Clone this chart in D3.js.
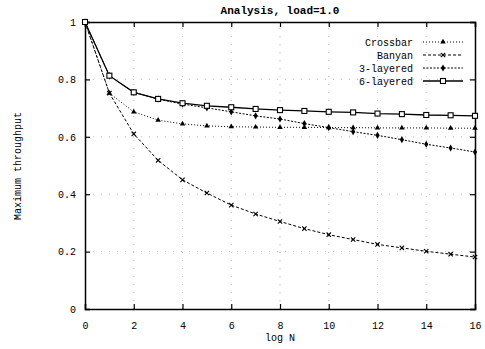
<!DOCTYPE html>
<html>
<head>
<meta charset="utf-8">
<script src="https://cdn.jsdelivr.net/npm/d3@7"></script>
<style>
  body { margin: 0; background: #fff; }
  text { font-family: "Liberation Mono", "DejaVu Sans Mono", monospace; fill: #000; }
</style>
</head>
<body>
<div class="chart"></div>
<script>
const logN = [0, 1, 2, 3, 4, 5, 6, 7, 8, 9, 10, 11, 12, 13, 14, 15, 16];
const crossbar = [1, 0.752, 0.687, 0.658, 0.645, 0.638, 0.635, 0.634, 0.633, 0.633, 0.632, 0.632, 0.631, 0.631, 0.631, 0.630, 0.630];
const banyan = [1, 0.752, 0.61, 0.518, 0.45, 0.404, 0.362, 0.331, 0.305, 0.28, 0.259, 0.242, 0.225, 0.213, 0.201, 0.191, 0.181];
const layered3 = [1, 0.813, 0.755, 0.731, 0.714, 0.701, 0.687, 0.673, 0.662, 0.646, 0.632, 0.618, 0.605, 0.59, 0.574, 0.561, 0.547];
const layered6 = [1, 0.813, 0.755, 0.732, 0.717, 0.708, 0.703, 0.697, 0.693, 0.69, 0.687, 0.685, 0.681, 0.679, 0.676, 0.675, 0.673];
const xTicks = [0, 2, 4, 6, 8, 10, 12, 14, 16];
const yTicks = [0, 0.2, 0.4, 0.6, 0.8, 1];
const seriesNames = ['Crossbar', 'Banyan', '3-layered', '6-layered'];

const w = 485, h = 349;
const margin = { top: 22, right: 10, bottom: 40, left: 85 };

const x = d3.scaleLinear().domain([0, 16]).range([margin.left, w - margin.right]);
const y = d3.scaleLinear().domain([0, 1]).range([h - margin.bottom, margin.top]);

const svg = d3.select('.chart').append('svg')
  .attr('width', w)
  .attr('height', h);

// grid (sparse dots)
svg.append('g').selectAll('line')
  .data(xTicks.slice(1, -1))
  .enter().append('line')
  .attr('x1', d => x(d)).attr('x2', d => x(d))
  .attr('y1', y(0)).attr('y2', y(1))
  .attr('stroke', '#aaa').attr('stroke-width', 0.8)
  .attr('stroke-dasharray', '1,7');

svg.append('g').selectAll('line')
  .data(yTicks.slice(1, -1))
  .enter().append('line')
  .attr('x1', x(0)).attr('x2', x(16))
  .attr('y1', d => y(d)).attr('y2', d => y(d))
  .attr('stroke', '#aaa').attr('stroke-width', 0.8)
  .attr('stroke-dasharray', '1,7');

// axes, ticks pointing inward on all four sides
const fmtY = d => d === 0 || d === 1 ? d3.format('d')(d) : d3.format('.1f')(d);

svg.append('g')
  .attr('transform', `translate(0,${y(0)})`)
  .call(d3.axisBottom(x).tickValues(xTicks).tickSize(-5).tickPadding(13).tickFormat(d3.format('d')))
  .call(g => g.selectAll('text').style('font-size', '10px'));

svg.append('g')
  .attr('transform', `translate(0,${y(1)})`)
  .call(d3.axisTop(x).tickValues(xTicks).tickSize(-5).tickFormat(''));

svg.append('g')
  .attr('transform', `translate(${x(0)},0)`)
  .call(d3.axisLeft(y).tickValues(yTicks).tickSize(-5).tickPadding(9).tickFormat(fmtY))
  .call(g => g.selectAll('text').style('font-size', '10px'));

svg.append('g')
  .attr('transform', `translate(${x(16)},0)`)
  .call(d3.axisRight(y).tickValues(yTicks).tickSize(-5).tickFormat(''));

svg.selectAll('.domain').attr('stroke', '#000').attr('stroke-width', 1.5);
svg.selectAll('.tick line').attr('stroke', '#000').attr('stroke-width', 1.2);

// titles
svg.append('text')
  .attr('x', 280).attr('y', 14)
  .attr('text-anchor', 'middle')
  .style('font-size', '11px').style('font-weight', 'bold')
  .text('Analysis, load=1.0');

svg.append('text')
  .attr('x', 280).attr('y', 341)
  .attr('text-anchor', 'middle')
  .style('font-size', '10px')
  .text('log N');

svg.append('text')
  .attr('transform', 'translate(21,166) rotate(-90)')
  .attr('text-anchor', 'middle')
  .style('font-size', '10px')
  .text('Maximum throughput');

// series
const allSeries = [crossbar, banyan, layered3, layered6];
const dashes = ['1,2', '3,2', '2,1.5', null];
const widths = [1, 1, 1, 1.3];

const line = d3.line()
  .x((d, i) => x(logN[i]))
  .y(d => y(d))
  .curve(d3.curveLinear);

function drawMarker(g, k, cx, cy) {
  if (k === 0) {
    g.append('path')
      .attr('d', d3.symbol().type(d3.symbolTriangle).size(13)())
      .attr('transform', `translate(${cx},${cy})`)
      .attr('fill', '#000');
  } else if (k === 1) {
    g.append('path')
      .attr('d', d3.symbol().type(d3.symbolTimes).size(14)())
      .attr('transform', `translate(${cx},${cy})`)
      .attr('fill', 'none').attr('stroke', '#000').attr('stroke-width', 1.1);
  } else if (k === 2) {
    g.append('path')
      .attr('d', d3.symbol().type(d3.symbolDiamond).size(15)())
      .attr('transform', `translate(${cx},${cy})`)
      .attr('fill', '#000');
  } else {
    g.append('rect')
      .attr('x', cx - 2.5).attr('y', cy - 2.5)
      .attr('width', 5).attr('height', 5)
      .attr('fill', '#fff').attr('stroke', '#000').attr('stroke-width', 1.1);
  }
}

allSeries.forEach((data, k) => {
  const g = svg.append('g');
  g.append('path')
    .attr('d', line(data))
    .attr('fill', 'none')
    .attr('stroke', '#000')
    .attr('stroke-width', widths[k])
    .attr('stroke-dasharray', dashes[k]);
  data.forEach((d, i) => drawMarker(g, k, x(logN[i]), y(d)));
});

// legend
const legendY = [42, 55, 68, 81];
seriesNames.forEach((name, k) => {
  const g = svg.append('g');
  g.append('text')
    .attr('x', 413).attr('y', legendY[k] + 3.5)
    .attr('text-anchor', 'end')
    .style('font-size', '10px')
    .text(name);
  g.append('line')
    .attr('x1', 423).attr('x2', 463)
    .attr('y1', legendY[k]).attr('y2', legendY[k])
    .attr('stroke', '#000')
    .attr('stroke-width', widths[k])
    .attr('stroke-dasharray', dashes[k]);
  drawMarker(g, k, 443, legendY[k]);
});
</script>
</body>
</html>
